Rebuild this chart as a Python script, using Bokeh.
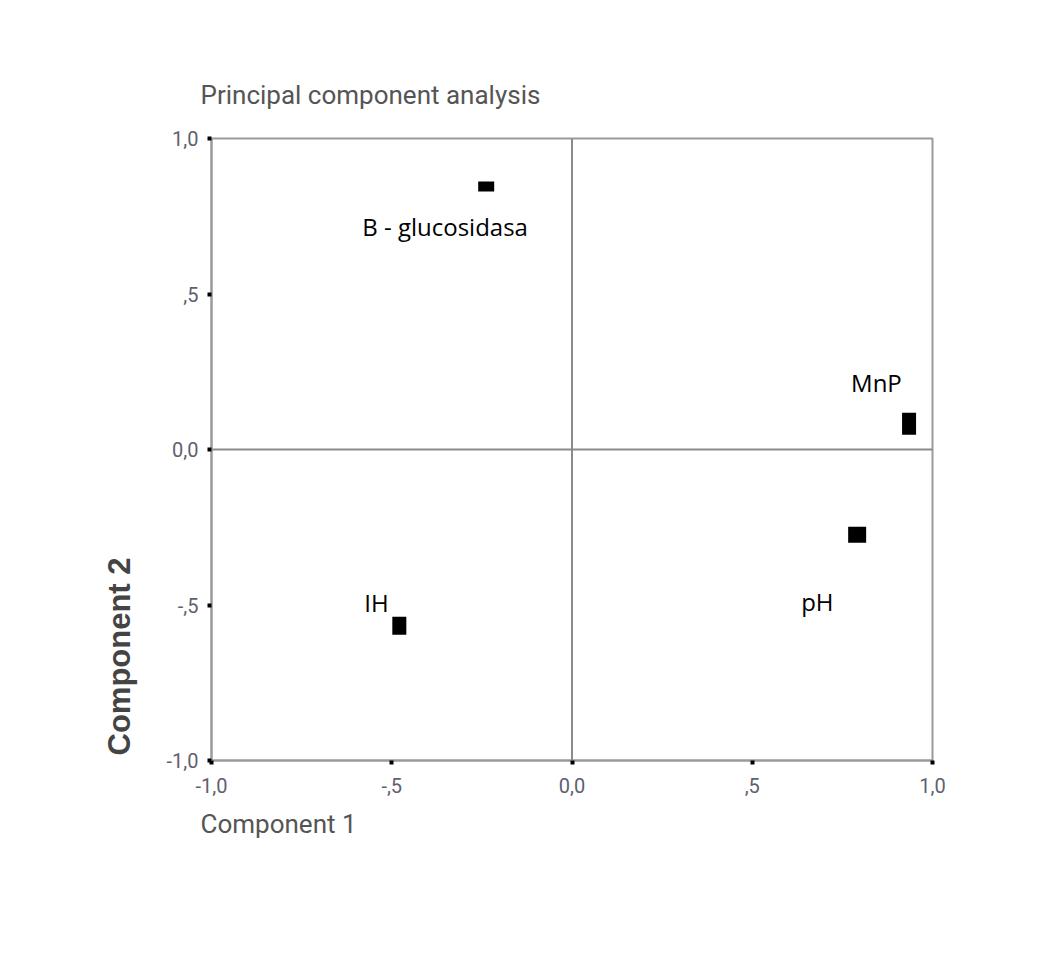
import math
from bokeh.plotting import figure
from bokeh.models import FixedTicker, Span, Title, ColumnDataSource, Range1d
from bokeh.core.properties import value
from bokeh.embed import file_html
from bokeh.resources import INLINE

# ---- data ----
variables = ["B - glucosidasa", "MnP", "pH", "IH"]
component1 = [-0.238, 0.935, 0.791, -0.479]
component2 = [0.846, 0.083, -0.274, -0.567]
tick_values = [-1.0, -0.5, 0.0, 0.5, 1.0]
tick_labels = ["-1,0", "-,5", "0,0", ",5", "1,0"]
title_text = "Principal component analysis"
xlabel_text = "Component 1"
ylabel_text = "Component 2"

# ---- styling (pixels) ----
mark_w = [16, 14, 18, 14]
mark_h = [10, 22, 16, 18]
lab_dx = [-124, -58, -56, -35]
lab_dy = [40, -41, 67, -23]

W, H = 1034, 948
p = figure(width=W, height=H, output_backend="svg", toolbar_location=None,
           x_range=Range1d(-1, 1), y_range=Range1d(-1, 1),
           min_border_left=211, min_border_right=102,
           min_border_top=138, min_border_bottom=188)
p.grid.visible = False
p.outline_line_color = "#9a9a9a"
p.outline_line_width = 2
p.background_fill_color = "white"
p.border_fill_color = "white"

for ax in (p.xaxis[0], p.yaxis[0]):
    ax.ticker = FixedTicker(ticks=tick_values)
    ax.major_label_overrides = {v: s for v, s in zip(tick_values, tick_labels)}
    ax.minor_tick_line_color = None
    ax.major_tick_in = 0
    ax.major_tick_out = 4
    ax.major_tick_line_width = 4
    ax.major_tick_line_color = "black"
    ax.axis_line_color = "#9a9a9a"
    ax.axis_line_width = 2
    ax.major_label_text_font = "Roboto"
    ax.major_label_text_font_size = "20px"
    ax.major_label_text_color = "#5f6070"
p.xaxis.major_label_standoff = 13
p.yaxis.major_label_standoff = 9

p.add_layout(Span(location=0, dimension="height", line_color="#8a8a8a", line_width=2))
p.add_layout(Span(location=0, dimension="width", line_color="#8a8a8a", line_width=2))

src = ColumnDataSource(dict(x=component1, y=component2, name=variables,
                            w=mark_w, h=mark_h, dx=lab_dx, dy=lab_dy))
p.rect(x="x", y="y", width="w", height="h", width_units="screen",
       height_units="screen", source=src, fill_color="black", line_color=None)
p.text(x="x", y="y", text="name", x_offset="dx", y_offset="dy", source=src,
       text_font=value("Open Sans"), text_font_size="24px", text_color="black",
       text_align="left", text_baseline="alphabetic")

p.add_layout(Title(text=title_text, align="left", offset=-11, standoff=57,
                   text_font="Roboto", text_font_size="26px", text_color="#555555",
                   text_font_style="normal"), "above")
p.add_layout(Title(text=xlabel_text, align="left", offset=-11, standoff=22,
                   text_font="Roboto", text_font_size="26px", text_color="#555555",
                   text_font_style="normal"), "below")
p.add_layout(Title(text=ylabel_text, align="left", offset=5, standoff=53,
                   text_font="'Liberation Sans', sans-serif", text_font_style="bold",
                   text_font_size="31px", text_color="#444444"), "left")

open("out.html", "w").write(file_html(p, INLINE))
